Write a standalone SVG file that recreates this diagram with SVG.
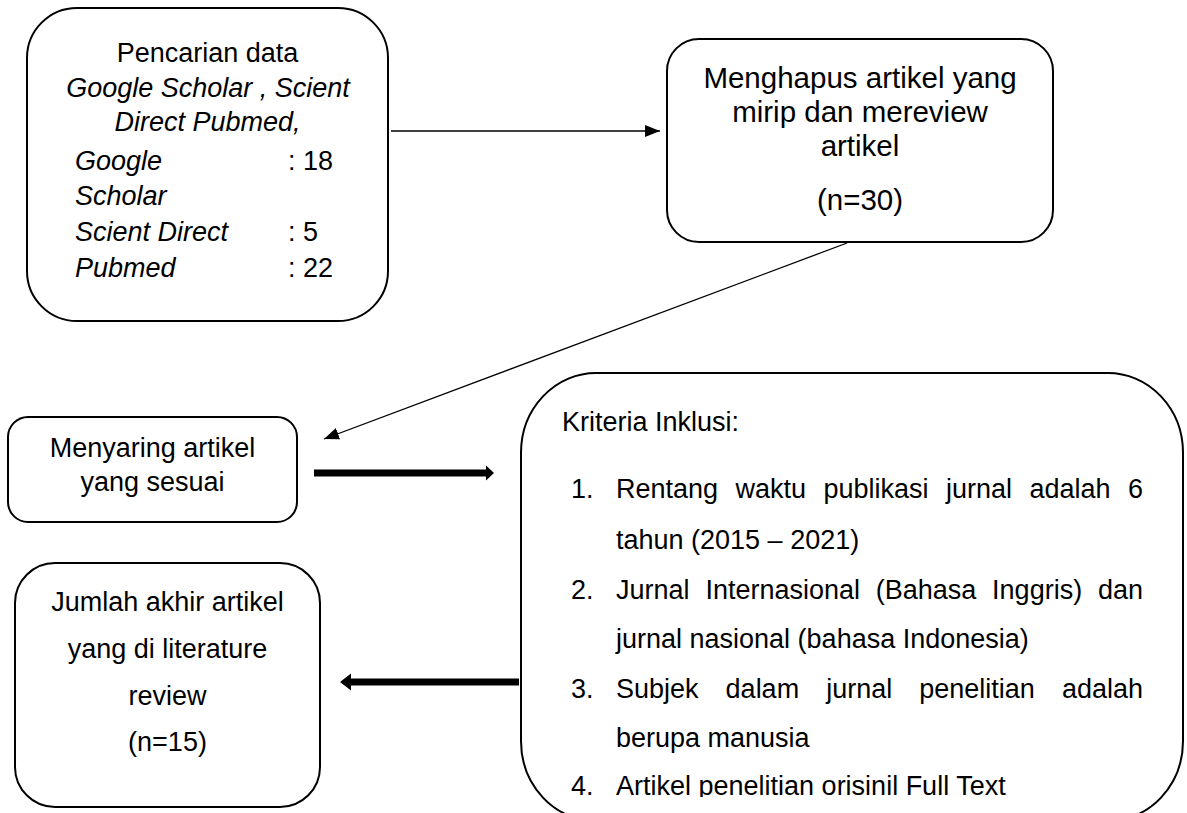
<svg xmlns="http://www.w3.org/2000/svg" width="1187" height="813" viewBox="0 0 1187 813">
<style>
.box{fill:#fff;stroke:#000;stroke-width:2}
.t{font-family:"Liberation Sans",Arial,sans-serif;font-size:27px;fill:#000}
.big{font-size:29.5px}
.c{text-anchor:middle}
.i{font-style:italic}
.thin{stroke:#000;stroke-width:1.3;fill:none}
.thick{fill:#000;stroke:none}
</style>
<defs>
<marker id="ah" markerUnits="userSpaceOnUse" markerWidth="16" markerHeight="14" refX="15" refY="6" orient="auto">
<path d="M0,0 L15,6 L0,12 Z" fill="#000"/>
</marker>
<clipPath id="clipLast"><rect x="0" y="0" width="1187" height="797"/></clipPath>
</defs>
<g id="connectors">
<line class="thin" x1="391" y1="131" x2="660" y2="131" marker-end="url(#ah)"/>
<line class="thin" x1="847" y1="243" x2="324" y2="439" marker-end="url(#ah)"/>
<path class="thick" d="M314,469.5 H486 V465.5 L494,473 L486,480.5 V476.5 H314 Z"/>
<path class="thick" d="M519,678.5 H351 V673.5 L340,682 L351,690.5 V685.5 H519 Z"/>
</g>
<g id="node-pencarian">
<rect class="box" x="27" y="8" width="361" height="313" rx="50" ry="50"/>
<text class="t c" x="207.5" y="62">Pencarian data</text>
<text class="t c i" x="208" y="97">Google Scholar , Scient</text>
<text class="t c i" x="207.5" y="131">Direct Pubmed,</text>
<text class="t i" x="75" y="170">Google</text><text class="t" x="288" y="170">: 18</text>
<text class="t i" x="75" y="205">Scholar</text>
<text class="t i" x="75" y="241">Scient Direct</text><text class="t" x="288" y="241">: 5</text>
<text class="t i" x="75" y="277">Pubmed</text><text class="t" x="288" y="277">: 22</text>
</g>
<g id="node-menghapus">
<rect class="box" x="667" y="39" width="386" height="203" rx="32" ry="32"/>
<text class="t big c" x="860" y="88">Menghapus artikel yang</text>
<text class="t big c" x="860" y="122">mirip dan mereview</text>
<text class="t big c" x="860" y="156">artikel</text>
<text class="t big c" x="860" y="210">(n=30)</text>
</g>
<g id="node-menyaring">
<rect class="box" x="8" y="417" width="289" height="105" rx="20" ry="20"/>
<text class="t c" x="152.5" y="457">Menyaring artikel</text>
<text class="t c" x="152.5" y="491">yang sesuai</text>
</g>
<g id="node-jumlah">
<rect class="box" x="15" y="563" width="305" height="244" rx="40" ry="40"/>
<text class="t c" x="167.5" y="611">Jumlah akhir artikel</text>
<text class="t c" x="167.5" y="658">yang di literature</text>
<text class="t c" x="167.5" y="705">review</text>
<text class="t c" x="167.5" y="751">(n=15)</text>
</g>
<g id="node-kriteria">
<rect class="box" x="521" y="373" width="662" height="448" rx="75" ry="80"/>
<text class="t" x="562" y="431">Kriteria Inklusi:</text>
<text class="t" y="498"><tspan x="571">1.</tspan><tspan x="616">Rentang</tspan><tspan x="735.5">waktu</tspan><tspan x="823.5">publikasi</tspan><tspan x="946">jurnal</tspan><tspan x="1029.5">adalah</tspan><tspan x="1128">6</tspan></text>
<text class="t" x="616" y="549">tahun (2015 – 2021)</text>
<text class="t" y="599"><tspan x="571">2.</tspan><tspan x="616">Jurnal</tspan><tspan x="705.4">Internasional</tspan><tspan x="875.8">(Bahasa</tspan><tspan x="992.1">Inggris)</tspan><tspan x="1098">dan</tspan></text>
<text class="t" x="616" y="648">jurnal nasional (bahasa Indonesia)</text>
<text class="t" y="698"><tspan x="571">3.</tspan><tspan x="616">Subjek</tspan><tspan x="725.6">dalam</tspan><tspan x="826.2">jurnal</tspan><tspan x="919.3">penelitian</tspan><tspan x="1062">adalah</tspan></text>
<text class="t" x="616" y="747">berupa manusia</text>
<text class="t" y="795" clip-path="url(#clipLast)"><tspan x="571">4.</tspan><tspan x="616">Artikel penelitian orisinil Full Text</tspan></text>
</g>
</svg>
